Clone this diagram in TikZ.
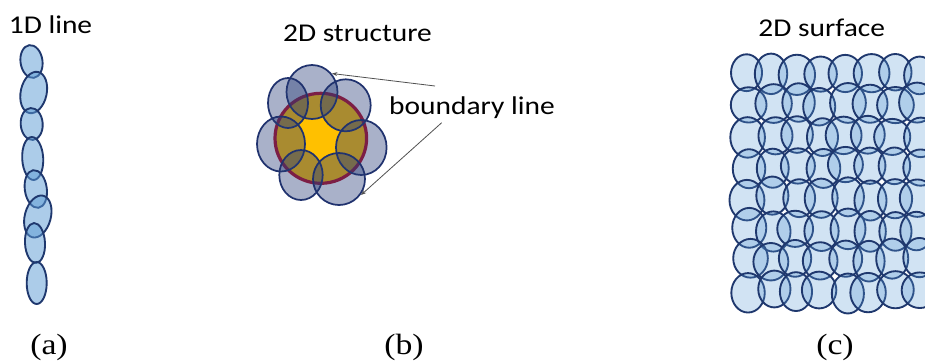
\documentclass[tikz,border=0pt]{standalone}
\usepackage{fontspec}
\newfontfamily\labfont[FakeStretch=1.15]{Carlito}
\newfontfamily\capfont[FakeStretch=1.15]{Liberation Serif}
\usetikzlibrary{shapes.geometric,arrows.meta}
\definecolor{beadline}{RGB}{31,56,110}
\definecolor{beadfill}{RGB}{91,155,213}
\definecolor{petalfill}{RGB}{40,60,120}
\definecolor{petalline}{RGB}{32,50,110}
\definecolor{gold}{RGB}{255,192,0}
\definecolor{ring}{RGB}{180,10,35}
\definecolor{pointercol}{RGB}{80,80,80}
\tikzset{
  title/.style={font=\labfont\fontsize{19.2pt}{23pt}\selectfont, anchor=base, inner sep=0pt},
  caption/.style={font=\capfont\fontsize{22pt}{26pt}\selectfont, anchor=base, inner sep=0pt},
  bead/.style={ellipse, draw=beadline, fill=beadfill, fill opacity=0.5, line width=1.4pt, inner sep=0pt, outer sep=0pt},
  petal/.style={ellipse, draw=petalline, fill=petalfill, fill opacity=0.4, line width=1.3pt, inner sep=0pt, outer sep=0pt},
  core/.style={ellipse, draw=ring, fill=gold, line width=2.4pt, inner sep=0pt, outer sep=0pt},
  cell/.style={draw=beadline, fill=beadfill, fill opacity=0.28, line width=1.4pt},
  pointer/.style={draw=pointercol, line width=0.6pt, -{Stealth[length=4pt,width=3pt]}}
}
\newcommand\mybead[5]{\node[bead, minimum width={#3*1.5pt}, minimum height={#4*1.5pt}, rotate=#5] (#1) at (#2) {};}
\newcommand\mypetal[5]{\node[petal, minimum width={#3*1.5pt}, minimum height={#4*1.5pt}, rotate=#5] (#1) at (#2) {};}
\begin{document}
\begin{tikzpicture}[x=0.75pt,y=-0.75pt]
\useasboundingbox (0,0) rectangle (925,362);
\fill[white] (0,0) rectangle (925,362);

% ---------- (a) 1D line ----------
\node[title] (ta) at (50.5,33.3) {1D line};
\mybead{a1}{31.5,61.5}{11}{16.5}{8}
\mybead{a2}{33.7,92.5}{13}{21}{-12}
\mybead{a3}{31.7,124}{11}{16}{4}
\mybead{a4}{32.7,158.5}{10.5}{21.5}{3}
\mybead{a5}{35.8,189}{11}{19}{8}
\mybead{a6}{37.8,216.5}{13}{21.5}{-15}
\mybead{a7}{35,243}{10}{20}{3}
\mybead{a8}{36.7,283}{10}{21}{0}
\node[caption] (ca) at (49,354) {(a)};

% ---------- (b) 2D structure ----------
\node[title] (tb) at (357.5,41.5) {2D structure};
\node[core, minimum width={91.6*0.75pt}, minimum height={90*0.75pt}] (core) at (320.8,138.3) {};
\mypetal{p1}{312,92}{25.5}{27}{0}
\mypetal{p2}{288,103}{20}{25}{0}
\mypetal{p3}{345.7,105.3}{25}{26}{0}
\mypetal{p4}{281,144}{24}{27.5}{0}
\mypetal{p5}{361.3,147.5}{25.3}{27.5}{0}
\mypetal{p6}{301,175}{21.7}{25}{0}
\mypetal{p7}{339,179}{26}{26}{0}
\node[title] (bl) at (472,114) {boundary line};
\coordinate (q1) at (435,86);
\coordinate (e1) at (332,73.5);
\coordinate (q2) at (441.7,122.7);
\coordinate (e2) at (361,195);
\draw[pointer] (q1) -- (e1);
\draw[pointer] (q2) -- (e2);
\node[caption] (cb) at (404,354) {(b)};

% ---------- (c) 2D surface ----------
\node[title] (tc) at (821.7,36.7) {2D surface};
\begin{scope}
\clip (0,0) rectangle (925,362);
\pgfmathsetseed{23}
\foreach \j in {0,...,7}{
  \foreach \i in {0,...,7}{
    \pgfmathsetmacro\cx{749+24.2*\i+2.5*rand}
    \pgfmathsetmacro\cy{74+31*\j+2.5*rand}
    \pgfmathsetmacro\rx{17+1.5*rand}
    \pgfmathsetmacro\ry{19+1.5*rand}
    \draw[cell] (\cx,\cy) ellipse ({\rx} and {\ry});
  }
}
\end{scope}
\node[caption] (cc) at (835,354) {(c)};
\end{tikzpicture}
\end{document}
